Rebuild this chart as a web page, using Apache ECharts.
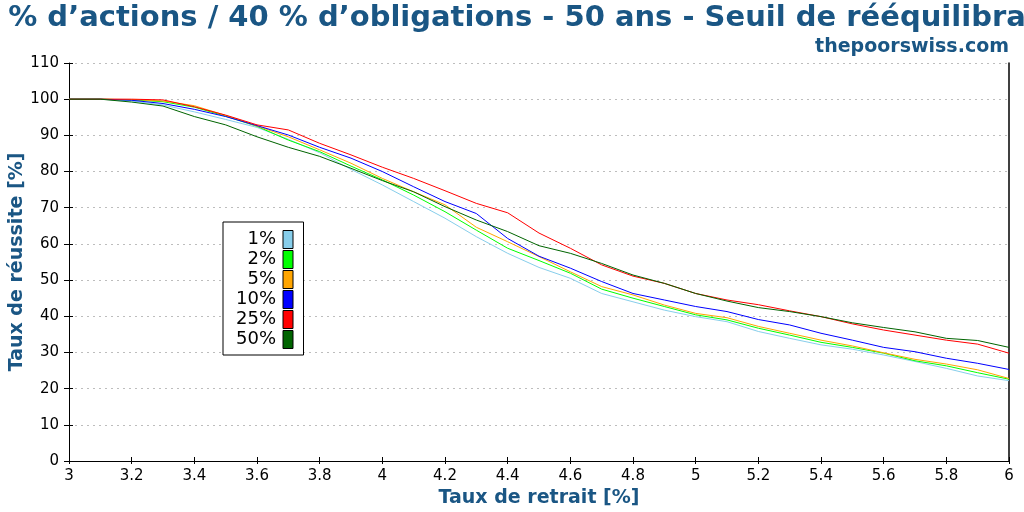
<!DOCTYPE html>
<html>
<head>
<meta charset="utf-8">
<script src="https://cdn.jsdelivr.net/npm/echarts@6/dist/echarts.min.js"></script>
<style>
  html, body { margin: 0; padding: 0; background: #fff; }
  #chart { width: 1024px; height: 512px; }
</style>
</head>
<body>
<div id="chart"></div>
<script>
// taux de retrait (%)
const rates = [3.0, 3.1, 3.2, 3.3, 3.4, 3.5, 3.6, 3.7, 3.8, 3.9,
  4.0, 4.1, 4.2, 4.3, 4.4, 4.5, 4.6, 4.7, 4.8, 4.9,
  5.0, 5.1, 5.2, 5.3, 5.4, 5.5, 5.6, 5.7, 5.8, 5.9, 6.0];

// taux de réussite (%) par seuil de rééquilibrage
const seuil1 = [100, 100, 99.5, 98.4, 96.5, 94.4, 92.2, 88.9, 85.2, 80.6,
  76.3, 71.7, 67.1, 62.0, 57.4, 53.5, 50.5, 46.3, 44.0, 41.7,
  39.9, 38.5, 35.8, 33.9, 32.1, 30.9, 29.3, 27.5, 25.6, 23.5, 22.2];
const seuil2 = [100, 100, 99.8, 99.3, 97.8, 95.3, 92.5, 88.7, 85.5, 81.5,
  77.7, 73.5, 68.9, 63.8, 58.8, 55.4, 51.9, 47.5, 45.0, 42.7,
  40.4, 39.0, 36.7, 34.8, 32.8, 31.4, 29.8, 27.7, 26.3, 24.4, 22.6];
const seuil5 = [100, 100, 99.9, 99.5, 98.2, 95.5, 92.6, 89.6, 86.0, 82.3,
  78.1, 74.4, 70.8, 64.6, 60.6, 56.5, 52.3, 48.2, 45.9, 43.1,
  40.8, 39.6, 37.2, 35.3, 33.4, 31.8, 29.9, 28.1, 26.8, 25.2, 22.8];
const seuil10 = [100, 100, 99.7, 98.8, 97.2, 95.2, 92.7, 90.1, 86.7, 83.7,
  80.0, 75.8, 71.7, 68.4, 61.5, 56.6, 53.3, 49.6, 46.3, 44.5,
  42.7, 41.3, 39.1, 37.6, 35.3, 33.4, 31.4, 30.2, 28.4, 27.0, 25.3];
const seuil25 = [100, 100, 100, 99.8, 97.9, 95.6, 92.9, 91.5, 87.8, 84.6,
  81.2, 78.1, 74.7, 71.2, 68.6, 63.0, 58.8, 54.2, 51.1, 49.1,
  46.3, 44.5, 43.2, 41.5, 39.9, 37.9, 36.2, 34.8, 33.4, 32.3, 29.8];
const seuil50 = [100, 100, 99.2, 98.1, 95.2, 92.9, 89.6, 86.7, 84.2, 80.9,
  77.5, 74.4, 70.3, 66.6, 63.4, 59.5, 57.4, 54.6, 51.4, 49.1,
  46.3, 44.2, 42.4, 41.3, 39.9, 38.2, 36.9, 35.7, 33.9, 33.3, 31.4];

const seriesNames = ['1%', '2%', '5%', '10%', '25%', '50%'];
const seriesValues = [seuil1, seuil2, seuil5, seuil10, seuil25, seuil50];
const colors = ['#87ceeb', '#00ff00', '#ffa500', '#0000ff', '#ff0000', '#006400'];

const blue = '#1a5684';
const font = 'DejaVu Sans';

const chart = echarts.init(document.getElementById('chart'));

const option = {
  backgroundColor: '#fff',
  animation: false,
  textStyle: { fontFamily: font },
  title: [
    {
      text: '60 % d’actions / 40 % d’obligations - 50 ans - Seuil de rééquilibrage',
      left: 'center',
      top: -1,
      textStyle: { fontFamily: font, fontWeight: 'bold', fontSize: 29, color: blue }
    },
    {
      text: 'thepoorswiss.com',
      right: 10,
      top: 33,
      textStyle: { fontFamily: font, fontWeight: 'bold', fontSize: 19, color: blue }
    }
  ],
  legend: {
    orient: 'vertical',
    left: 223,
    top: 222,
    padding: [8, 10, 6, 12],
    itemGap: 1,
    itemWidth: 10,
    itemHeight: 18,
    icon: 'rect',
    align: 'right',
    backgroundColor: '#fff',
    borderColor: '#000',
    borderWidth: 1,
    borderRadius: 0,
    itemStyle: { borderColor: '#000', borderWidth: 1 },
    textStyle: {
      fontFamily: font, fontSize: 18, lineHeight: 18, color: '#000',
      width: 41, align: 'right', padding: [0, 2, 0, 0]
    },
    data: seriesNames
  },
  grid: { left: 69, right: 15, top: 63, bottom: 51, containLabel: false, outerBoundsMode: 'none' },
  xAxis: [
    {
      type: 'value',
      min: 3,
      max: 6,
      interval: 0.2,
      name: 'Taux de retrait [%]',
      nameLocation: 'middle',
      nameGap: 25,
      nameTextStyle: { fontFamily: font, fontWeight: 'bold', fontSize: 19, color: blue },
      axisLine: { lineStyle: { color: '#000', width: 1 } },
      axisTick: { inside: false, length: 3, lineStyle: { color: '#000' } },
      axisLabel: { fontFamily: font, fontSize: 15, color: '#000', margin: 8 },
      splitLine: { show: false }
    },
    {
      type: 'value',
      position: 'bottom',
      min: 3,
      max: 6,
      interval: 0.2,
      axisLine: { show: false },
      axisTick: { inside: true, length: 4, lineStyle: { color: '#000' } },
      axisLabel: { show: false },
      splitLine: { show: false }
    }
  ],
  yAxis: [
    {
      type: 'value',
      min: 0,
      max: 110,
      interval: 10,
      name: 'Taux de réussite [%]',
      nameLocation: 'middle',
      nameGap: 42,
      nameMoveOverlap: false,
      nameTextStyle: { fontFamily: font, fontWeight: 'bold', fontSize: 19, color: blue },
      axisLine: { show: true, lineStyle: { color: '#000', width: 1 } },
      axisTick: { show: true, inside: false, length: 5, lineStyle: { color: '#000' } },
      axisLabel: { fontFamily: font, fontSize: 15, color: '#000', margin: 10 },
      splitLine: { show: true, lineStyle: { color: '#bdbdbd', type: [2, 4], width: 1 } }
    },
    {
      type: 'value',
      position: 'left',
      min: 0,
      max: 110,
      interval: 10,
      axisLine: { show: false },
      axisTick: { show: true, inside: true, length: 4, lineStyle: { color: '#000' } },
      axisLabel: { show: false },
      splitLine: { show: false }
    },
    {
      type: 'value',
      position: 'right',
      min: 0,
      max: 110,
      interval: 10,
      axisLine: { show: true, onZero: false, lineStyle: { color: '#000', width: 1.5 } },
      axisTick: { show: false },
      axisLabel: { show: false },
      splitLine: { show: false }
    }
  ],
  series: seriesNames.map((name, i) => ({
    name: name,
    type: 'line',
    showSymbol: false,
    symbol: 'none',
    color: colors[i],
    lineStyle: { color: colors[i], width: 1 },
    data: rates.map((r, j) => [r, seriesValues[i][j]])
  }))
};

chart.setOption(option);
</script>
</body>
</html>
